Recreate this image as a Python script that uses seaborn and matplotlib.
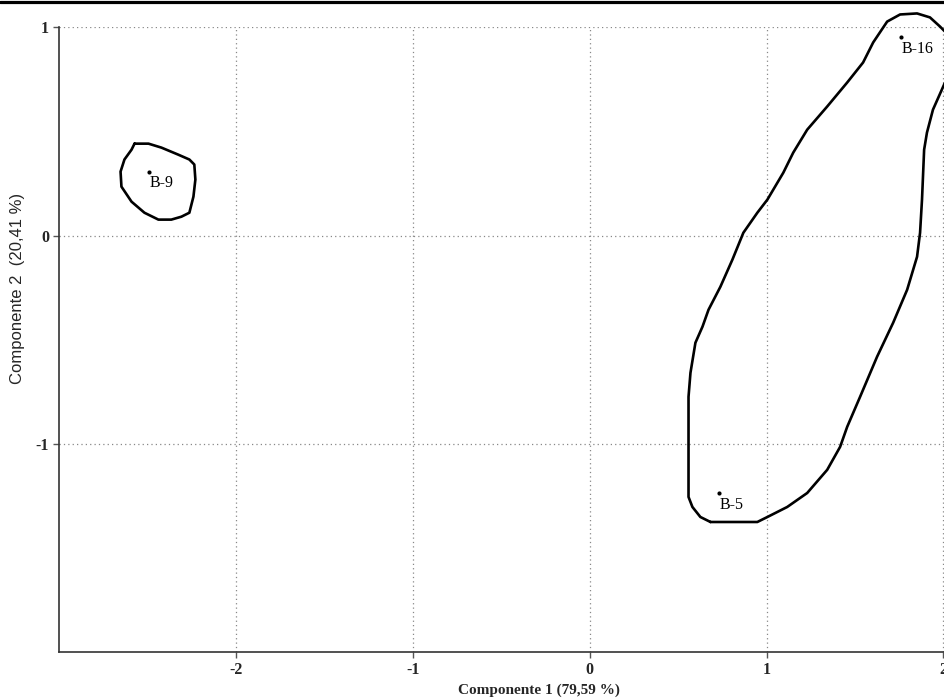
import matplotlib
matplotlib.use("Agg")
import matplotlib.pyplot as plt
from matplotlib.lines import Line2D
import seaborn as sns
import pandas as pd

# ---- data ----
point_names = ["B-9", "B-16", "B-5"]
point_x = [-2.489, 1.761, 0.734]
point_y = [0.307, 0.950, -1.233]

cluster1_x = [-2.573, -2.494, -2.421, -2.325, -2.263, -2.235, -2.229, -2.240, -2.263, -2.308,
              -2.365, -2.438, -2.517, -2.590, -2.647, -2.652, -2.630, -2.590, -2.573]
cluster1_y = [0.441, 0.441, 0.422, 0.388, 0.365, 0.341, 0.269, 0.187, 0.110, 0.091,
              0.077, 0.077, 0.110, 0.163, 0.235, 0.307, 0.365, 0.412, 0.441]

cluster2_x = [0.683, 0.626, 0.581, 0.559, 0.559, 0.570, 0.598, 0.638, 0.672, 0.739,
              0.807, 0.869, 0.948, 1.005, 1.095, 1.151, 1.230, 1.343, 1.456, 1.546,
              1.603, 1.682, 1.755, 1.851, 1.924, 1.981, 2.009, 2.065, 2.009, 1.941,
              1.907, 1.891, 1.879, 1.868, 1.851, 1.795, 1.716, 1.625, 1.529, 1.456,
              1.416, 1.343, 1.230, 1.117, 1.005, 0.948, 0.683]
cluster2_y = [-1.372, -1.348, -1.300, -1.252, -0.772, -0.657, -0.513, -0.436, -0.355, -0.245,
              -0.115, 0.014, 0.110, 0.173, 0.302, 0.398, 0.508, 0.619, 0.734, 0.830,
              0.926, 1.026, 1.060, 1.065, 1.046, 1.002, 0.978, 0.892, 0.734, 0.604,
              0.494, 0.412, 0.173, 0.014, -0.101, -0.259, -0.417, -0.580, -0.772, -0.916,
              -1.012, -1.122, -1.233, -1.300, -1.348, -1.372, -1.372]

x_ticks = [-2, -1, 0, 1, 2]
y_ticks = [-1, 0, 1]
x_label = "Componente 1 (79,59 %)"
y_label = "Componente 2  (20,41 %)"

# ---- plot ----
sns.set_style("white")
plt.rcParams["font.family"] = ["Liberation Serif", "DejaVu Serif"]

fig = plt.figure(figsize=(9.45, 7.0), dpi=100)
ax = fig.add_axes([59 / 945, 48 / 700, 886 / 945, 625 / 700])

df1 = pd.DataFrame({"x": cluster1_x, "y": cluster1_y})
df2 = pd.DataFrame({"x": cluster2_x, "y": cluster2_y})
for d in (df1, df2):
    sns.lineplot(data=d, x="x", y="y", sort=False, estimator=None, color="black",
                 linewidth=1.9, ax=ax, clip_on=False, zorder=3)

pts = pd.DataFrame({"x": point_x, "y": point_y, "name": point_names})
sns.scatterplot(data=pts, x="x", y="y", color="black", s=9, edgecolor="black",
                linewidth=0, ax=ax, zorder=4)
for nm, px, py in zip(point_names, point_x, point_y):
    ax.annotate(nm, (px, py), xytext=(0, -8.5), textcoords="offset points",
                ha="left", va="center", fontsize=11.5, color="black")

ax.set_xlim(-3, 2.009)
ax.set_ylim(-1.995, 1.0)
ax.set_xticks(x_ticks)
ax.set_yticks(y_ticks)
ax.set_xticklabels([str(t) for t in x_ticks], fontsize=11.5, fontweight="bold")
ax.set_yticklabels([str(t) for t in y_ticks], fontsize=11.5, fontweight="bold")
ax.tick_params(axis="both", direction="out", length=4, width=1, color="#555555",
               bottom=True, left=True, pad=3)

ax.grid(True, linestyle=(0, (1, 2.5)), color="#888888", linewidth=0.9)
for s in ("top", "right"):
    ax.spines[s].set_visible(False)
for s in ("left", "bottom"):
    ax.spines[s].set_color("#333333")
    ax.spines[s].set_linewidth(1.2)
ax.set_xlabel("")
ax.set_ylabel("")

fig.text(539 / 945, 1 - 690 / 700, x_label, ha="center", va="center",
         fontsize=11, fontweight="bold")
fig.text(18 / 945, 1 - 288 / 700, y_label, ha="center", va="center", rotation=90,
         fontsize=12, family=["Liberation Sans", "DejaVu Sans"])

fig.add_artist(Line2D([0, 1], [1 - 1.5 / 700, 1 - 1.5 / 700], color="black",
                      linewidth=2.3, transform=fig.transFigure))

fig.savefig("out.png", dpi=100)
